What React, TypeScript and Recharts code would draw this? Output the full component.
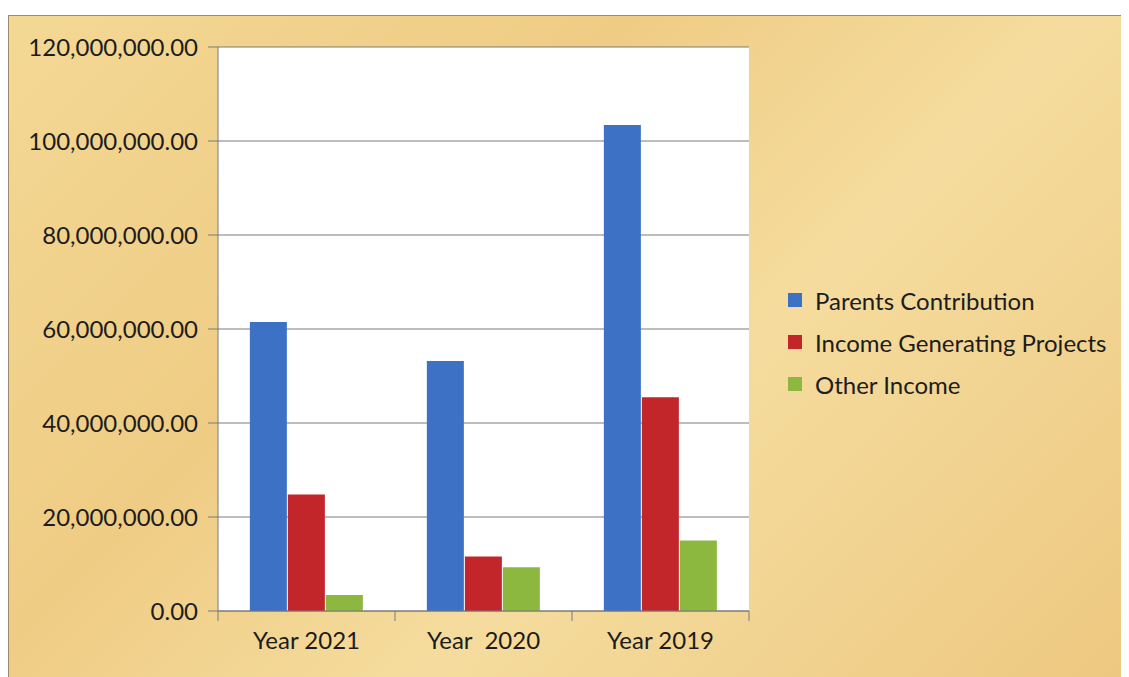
import React from "react";
import { BarChart, Bar, XAxis, YAxis, CartesianGrid } from "recharts";

const categories = ["Year 2021", "Year  2020", "Year 2019"];
const parentsContribution = [61500000, 53200000, 103400000];
const incomeGeneratingProjects = [24800000, 11600000, 45500000];
const otherIncome = [3400000, 9300000, 15000000];
const yTicks = [0, 20000000, 40000000, 60000000, 80000000, 100000000, 120000000];

const seriesNames = ["Parents Contribution", "Income Generating Projects", "Other Income"];
const colors = ["#3c71c5", "#c2262a", "#8cb840"];

const data = categories.map((c, i) => ({
  name: c,
  parents: parentsContribution[i],
  igp: incomeGeneratingProjects[i],
  other: otherIncome[i],
}));

const FONT = "Lato, 'Liberation Sans', sans-serif";

const fmt = (v: number) =>
  v.toLocaleString("en-US", { minimumFractionDigits: 2, maximumFractionDigits: 2 });

const XTick = (props: any) => {
  const { x, y, payload, index, visibleTicksCount } = props;
  const band = 531 / 3;
  return (
    <g>
      <line x1={x - band / 2} y1={y - 8} x2={x - band / 2} y2={y + 2} stroke="#7a7a7a" />
      {index === (visibleTicksCount ?? 3) - 1 && (
        <line x1={x + band / 2} y1={y - 8} x2={x + band / 2} y2={y + 2} stroke="#7a7a7a" />
      )}
      <text
        x={x}
        y={y + 30}
        textAnchor="middle"
        fontFamily={FONT}
        fontSize={24}
        fill="#1c1c1c"
        style={{ whiteSpace: "pre" }}
      >
        {payload.value}
      </text>
    </g>
  );
};

export default function App() {
  return (
    <div
      style={{
        position: "relative",
        marginTop: 7,
        width: 1121,
        height: 662,
        boxSizing: "border-box",
        borderTop: "1px solid #9a8a70",
        borderLeft: "1px solid #9a8a70",
        background:
          "linear-gradient(135deg, #f3d894 0%, #efcc84 35%, #f5dc9e 60%, #edc880 100%)",
      }}
    >
      <BarChart
        width={1121}
        height={662}
        data={data}
        margin={{ top: 31, right: 381, bottom: 0, left: 0 }}
        barCategoryGap="18%"
        barGap={1}
      >
        <CartesianGrid vertical={false} stroke="#7a7a7a" fill="#ffffff" />
        <XAxis
          dataKey="name"
          height={67}
          stroke="#7a7a7a"
          tickLine={false}
          tick={<XTick />}
          interval={0}
        />
        <YAxis
          width={209}
          domain={[0, 120000000]}
          ticks={yTicks}
          tickFormatter={fmt}
          stroke="#7a7a7a"
          tickSize={10}
          tickMargin={10}
          tick={{ fontFamily: FONT, fontSize: 24, fill: "#1c1c1c" }}
          interval={0}
        />
        <Bar dataKey="parents" name={seriesNames[0]} fill={colors[0]} isAnimationActive={false} />
        <Bar dataKey="igp" name={seriesNames[1]} fill={colors[1]} isAnimationActive={false} />
        <Bar dataKey="other" name={seriesNames[2]} fill={colors[2]} isAnimationActive={false} />
      </BarChart>
      <div style={{ position: "absolute", left: 779, top: 263, fontFamily: FONT, fontSize: 24, color: "#1c1c1c" }}>
        {seriesNames.map((n, i) => (
          <div key={n} style={{ display: "flex", alignItems: "center", height: 42 }}>
            <span style={{ width: 14, height: 14, background: colors[i], marginRight: 13, display: "inline-block" }} />
            <span>{n}</span>
          </div>
        ))}
      </div>
    </div>
  );
}
